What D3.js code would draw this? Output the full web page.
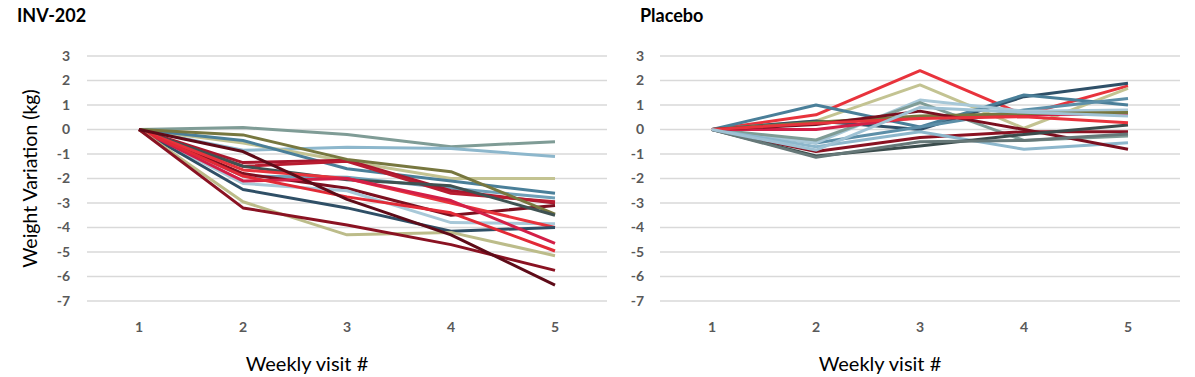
<!DOCTYPE html>
<html><head><meta charset="utf-8">
<script src="https://cdn.jsdelivr.net/npm/d3@7"></script>
<style>body{margin:0;background:#fff;} svg{display:block;font-family:Lato,"Open Sans",sans-serif;}</style>
</head><body>
<svg id="c" width="1195" height="377"></svg>
<script>
const visits = [1, 2, 3, 4, 5];
const yTicks = [3, 2, 1, 0, -1, -2, -3, -4, -5, -6, -7];
const panelTitles = ["INV-202", "Placebo"];
const yTitle = "Weight Variation (kg)";
const xTitle = "Weekly visit #";

const invColors = ["#7f9c96","#8db7cc","#c3c392","#4a7f99","#6fa0b8","#a8172d","#b81c30","#7d1020","#77773f","#3f5252","#a8c8d8","#e8333c","#2f4f66","#d31f47","#e22a36","#bcbc8a","#8a1222","#5e0b18"];
const invValues = [
  [0, 0.08, -0.2, -0.7, -0.5],
  [0, -0.85, -0.72, -0.78, -1.1],
  [0, -0.55, -1.3, -2.0, -2.0],
  [0, -0.45, -1.6, -2.1, -2.6],
  [0, -1.9, -1.95, -2.4, -2.8],
  [0, -1.35, -1.25, -2.5, -3.0],
  [0, -1.5, -1.3, -2.6, -2.95],
  [0, -1.8, -2.4, -3.5, -3.1],
  [0, -0.22, -1.22, -1.72, -3.45],
  [0, -1.5, -2.05, -2.3, -3.5],
  [0, -2.2, -2.5, -3.8, -3.85],
  [0, -1.65, -2.0, -3.0, -4.0],
  [0, -2.45, -3.2, -4.15, -4.0],
  [0, -2.1, -2.0, -2.9, -4.65],
  [0, -1.9, -2.75, -3.4, -4.96],
  [0, -2.95, -4.3, -4.2, -5.15],
  [0, -3.2, -3.9, -4.7, -5.75],
  [0, -0.9, -2.85, -4.3, -6.35]
];

const plaColors = ["#e8333c","#c3c392","#2f5068","#4a7f99","#5c8fa8","#a8c8d8","#7f9c96","#8a1222","#d31f47","#77773f","#8db7cc","#7a0f1f","#3b4c4c","#667878","#e8333c","#9fc2d4"];
const plaValues = [
  [0, 0.6, 2.4, 0.6, 1.78],
  [0, 0.35, 1.82, 0.05, 1.68],
  [0, 0.35, 0.0, 1.34, 1.89],
  [0, 1.0, 0.1, 1.41, 1.0],
  [0, -0.55, 0.1, 0.8, 1.27],
  [0, -0.55, 1.2, 0.75, 0.8],
  [0, -0.43, 1.1, -0.45, -0.27],
  [0, -0.9, -0.33, -0.09, -0.09],
  [0, 0.0, 0.5, 0.6, 0.62],
  [0, 0.3, 0.55, 0.65, 0.69],
  [0, -0.7, -0.09, -0.81, -0.54],
  [0, 0.2, 0.75, 0.0, -0.81],
  [0, -1.08, -0.67, -0.2, 0.18],
  [0, -1.13, -0.5, -0.45, -0.18],
  [0, 0.25, 0.45, 0.52, 0.28],
  [0, -0.84, 0.9, 0.7, 0.55]
];

const svg = d3.select("#c");
const y = d3.scaleLinear().domain([-7, 3]).range([301, 56]);

function panel(x0, x1, title, values, colors, titleX, labelX, yTitleOn) {
  const x = d3.scalePoint().domain(visits).range([x0, x1]).padding(0.5);
  const g = svg.append("g");
  g.append("g").selectAll("line").data(yTicks).join("line")
    .attr("x1", x0).attr("x2", x1)
    .attr("y1", d => y(d)).attr("y2", d => y(d))
    .attr("stroke", "#d9d9d9").attr("stroke-width", 1.5);
  g.append("g").selectAll("text").data(yTicks).join("text")
    .attr("x", labelX).attr("y", d => y(d)).attr("dy", "0.35em")
    .attr("text-anchor", "end").attr("font-size", 14).attr("font-weight", "bold")
    .attr("fill", "#595959").text(d => d);
  g.append("g").selectAll("text").data(visits).join("text")
    .attr("x", d => x(d)).attr("y", 332)
    .attr("text-anchor", "middle").attr("font-size", 14).attr("font-weight", "bold")
    .attr("fill", "#595959").text(d => d);
  const line = d3.line().x((d, i) => x(visits[i])).y(d => y(d));
  g.append("g").selectAll("path").data(values).join("path")
    .attr("d", line).attr("fill", "none")
    .attr("stroke", (d, i) => colors[i]).attr("stroke-width", 3)
    .attr("stroke-linejoin", "round");
  g.append("text").attr("x", titleX).attr("y", 22).attr("font-size", 18)
    .attr("font-weight", "bold").attr("fill", "#000").text(title);
  g.append("text").attr("x", (x0 + x1) / 2 - 40).attr("y", 371)
    .attr("text-anchor", "middle").attr("font-size", 20).attr("fill", "#000").text(xTitle);
  if (yTitleOn) {
    g.append("text").attr("transform", `translate(37,${(56 + 301) / 2}) rotate(-90)`)
      .attr("text-anchor", "middle").attr("font-size", 19.5).attr("fill", "#000").text(yTitle);
  }
}

panel(87, 607, panelTitles[0], invValues, invColors, 17, 70, true);
panel(660, 1180, panelTitles[1], plaValues, plaColors, 640, 644, false);
</script>
</body></html>
